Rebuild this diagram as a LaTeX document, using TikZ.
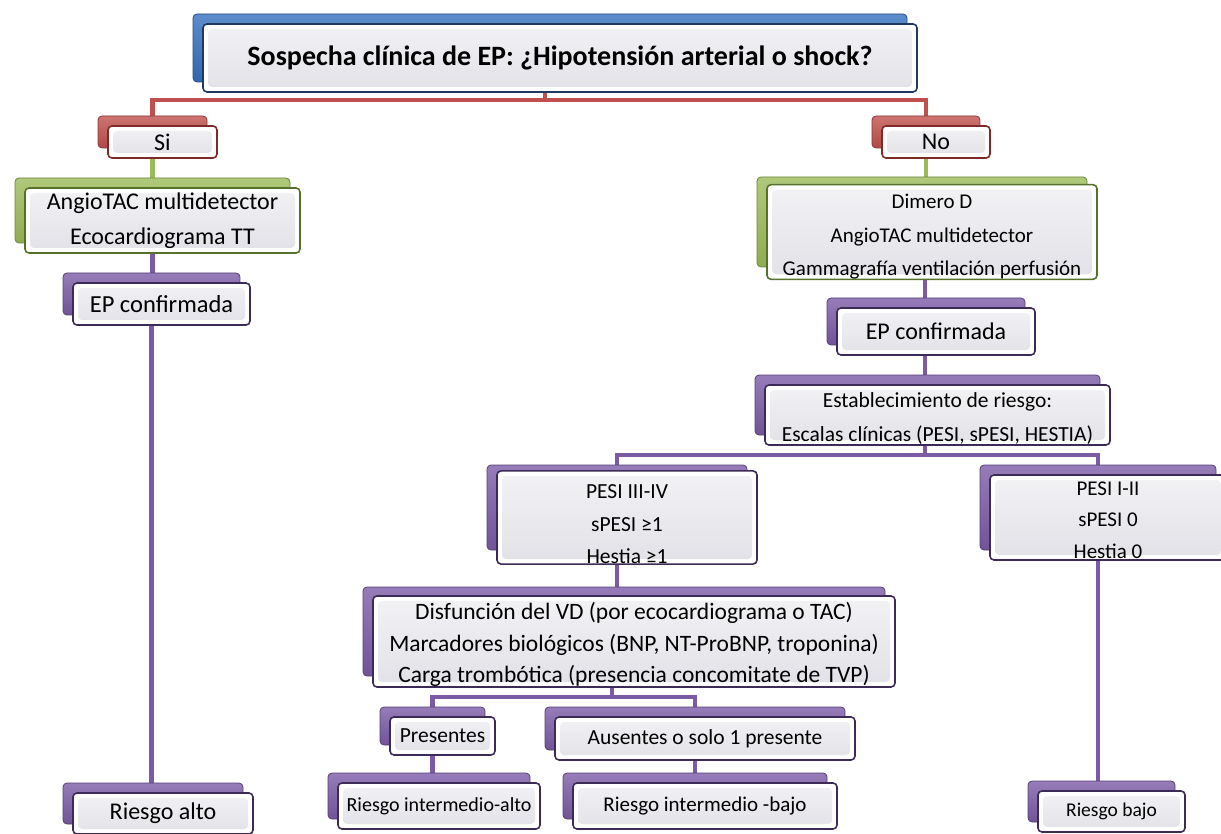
\documentclass[tikz,border=0pt]{standalone}
\usepackage{fontspec}
\setmainfont{Carlito}
\usetikzlibrary{calc}
\pgfdeclarelayer{bg}
\pgfsetlayers{bg,main}
\definecolor{cred}{HTML}{C0504D}
\definecolor{dred}{HTML}{7E2A27}
\definecolor{cblue}{HTML}{3470BE}
\definecolor{dblue}{HTML}{1E3A60}
\definecolor{cgreen}{HTML}{9BBB59}
\definecolor{dgreen}{HTML}{56722A}
\definecolor{cpurple}{HTML}{7B5BA6}
\definecolor{dpurple}{HTML}{3C2B57}
\definecolor{facelo}{HTML}{E2E1E7}
\definecolor{facehi}{HTML}{F2F2F5}
\tikzset{
  backbox/.style={draw=#1!70!black, line width=0.8pt, rounded corners=4pt,
    top color=#1!80!white, bottom color=#1!92!black},
  frontbox/.style={draw=#1, line width=1.6pt, rounded corners=4pt, fill=white,
    inner sep=0pt, align=center,
    path picture={\shade[top color=facehi, bottom color=facelo]
      ([shift={(5pt,-5pt)}]path picture bounding box.north west) rectangle
      ([shift={(-5pt,5pt)}]path picture bounding box.south east);}},
  conn/.style={line width=4.5pt, draw=#1}
}
\newcommand\mybox[9]{%
  \pgfmathsetmacro\bw{#6-#4}%
  \pgfmathsetmacro\bh{#7-#5}%
  \pgfmathsetmacro\cx{(#4+#6)/2}%
  \pgfmathsetmacro\cy{(#5+#7)/2}%
  \node[backbox=#2, minimum width=\bw pt, minimum height=\bh pt, inner sep=0pt] (#1-b) at (\cx-10,\cy-10) {};%
  \node[frontbox=#3, minimum width=\bw pt, minimum height=\bh pt, font=#8] (#1) at (\cx,\cy) {#9};%
}
\begin{document}
\begin{tikzpicture}[x=1pt,y=-1pt]
\useasboundingbox (0,0) rectangle (1221,834);
\mybox{title}{cblue}{dblue}{203}{24}{917}{92}{\bfseries\fontsize{28}{32}\selectfont}{Sospecha clínica de EP: ¿Hipotensión arterial o shock?}
\mybox{si}{cred}{dred}{108}{126}{217}{158}{\fontsize{24}{28}\selectfont}{Si}
\mybox{no}{cred}{dred}{882}{126}{990}{158}{\fontsize{24}{28}\selectfont}{No}
\mybox{angioL}{cgreen}{dgreen}{25}{188}{300}{253}{\fontsize{24}{35}\selectfont}{AngioTAC multidetector\\Ecocardiograma TT}
\mybox{epL}{cpurple}{dpurple}{73}{283}{250}{325}{\fontsize{24.5}{28}\selectfont}{EP confirmada}
\mybox{ralto}{cpurple}{dpurple}{73}{793}{253}{834}{\fontsize{24}{28}\selectfont}{Riesgo alto}
\mybox{dimero}{cgreen}{dgreen}{767}{187}{1097}{277}{\fontsize{21}{33.5}\selectfont}{\rule{0pt}{24pt}Dimero D\\AngioTAC multidetector\\Gammagrafía ventilación perfusión}
\mybox{epR}{cpurple}{dpurple}{837}{308}{1035}{355}{\fontsize{24}{28}\selectfont}{EP confirmada}
\mybox{estab}{cpurple}{dpurple}{765}{385}{1110}{445}{\fontsize{21.5}{34}\selectfont}{\rule{0pt}{22pt}Establecimiento de riesgo:\\Escalas clínicas (PESI, sPESI, HESTIA)}
\mybox{pesiA}{cpurple}{dpurple}{497}{475}{757}{560}{\fontsize{21.5}{32.5}\selectfont}{\rule{0pt}{28pt}PESI III-IV\\sPESI ≥1\\Hestia ≥1}
\mybox{pesiB}{cpurple}{dpurple}{990}{475}{1226}{560}{\fontsize{21}{31.5}\selectfont}{\rule{0pt}{19pt}PESI I-II\\sPESI 0\\Hestia 0}
\mybox{disf}{cpurple}{dpurple}{373}{597}{895}{686}{\fontsize{23.5}{31.5}\selectfont}{\rule{0pt}{24pt}Disfunción del VD (por ecocardiograma o TAC)\\Marcadores biológicos (BNP, NT-ProBNP, troponina)\\Carga trombótica (presencia concomitate de TVP)}
\mybox{pres}{cpurple}{dpurple}{390}{717}{495}{755}{\fontsize{21.5}{26}\selectfont}{Presentes}
\mybox{aus}{cpurple}{dpurple}{555}{717}{855}{760}{\fontsize{21.5}{26}\selectfont}{Ausentes o solo 1 presente}
\mybox{rialto}{cpurple}{dpurple}{338}{783}{540}{829}{\fontsize{20}{24}\selectfont}{Riesgo intermedio-alto}
\mybox{ribajo}{cpurple}{dpurple}{573}{783}{837}{829}{\fontsize{21}{25}\selectfont}{Riesgo intermedio -bajo}
\mybox{rbajo}{cpurple}{dpurple}{1038}{791}{1185}{832}{\fontsize{19.5}{23}\selectfont}{Riesgo bajo}
\begin{pgfonlayer}{bg}
\coordinate (j1) at (545,100);
\coordinate (j2) at (925,455);
\coordinate (j3) at (612,697);
\draw[conn=cred] (title-b.south -| j1) -- (j1);
\draw[conn=cred] (si-b.north) |- (j1) -| (no-b.north);
\draw[conn=cgreen] (si-b.south) -- (si-b.south |- angioL-b.north);
\draw[conn=cpurple] (angioL-b.south) -- (angioL-b.south |- epL-b.north);
\draw[conn=cpurple] (epL-b.south) -- (epL-b.south |- ralto-b.north);
\draw[conn=cgreen] (no-b.south) -- (no-b.south |- dimero-b.north);
\draw[conn=cpurple] (dimero-b.south -| j2) -- (epR-b.north -| j2);
\draw[conn=cpurple] (epR-b.south -| j2) -- (estab-b.north -| j2);
\draw[conn=cpurple] (estab-b.south -| j2) -- (j2);
\draw[conn=cpurple] (pesiA-b.north) |- (j2) -| (pesiB-b.north);
\draw[conn=cpurple] (pesiA-b.south) -- (pesiA-b.south |- disf-b.north);
\draw[conn=cpurple] (pesiB-b.south) -- (pesiB-b.south |- rbajo-b.north);
\draw[conn=cpurple] (disf-b.south -| j3) -- (j3);
\draw[conn=cpurple] (pres-b.north) |- (j3) -| (aus-b.north);
\draw[conn=cpurple] (pres-b.south) -- (pres-b.south |- rialto-b.north);
\draw[conn=cpurple] (aus-b.south) -- (aus-b.south |- ribajo-b.north);
\end{pgfonlayer}
\end{tikzpicture}
\end{document}
